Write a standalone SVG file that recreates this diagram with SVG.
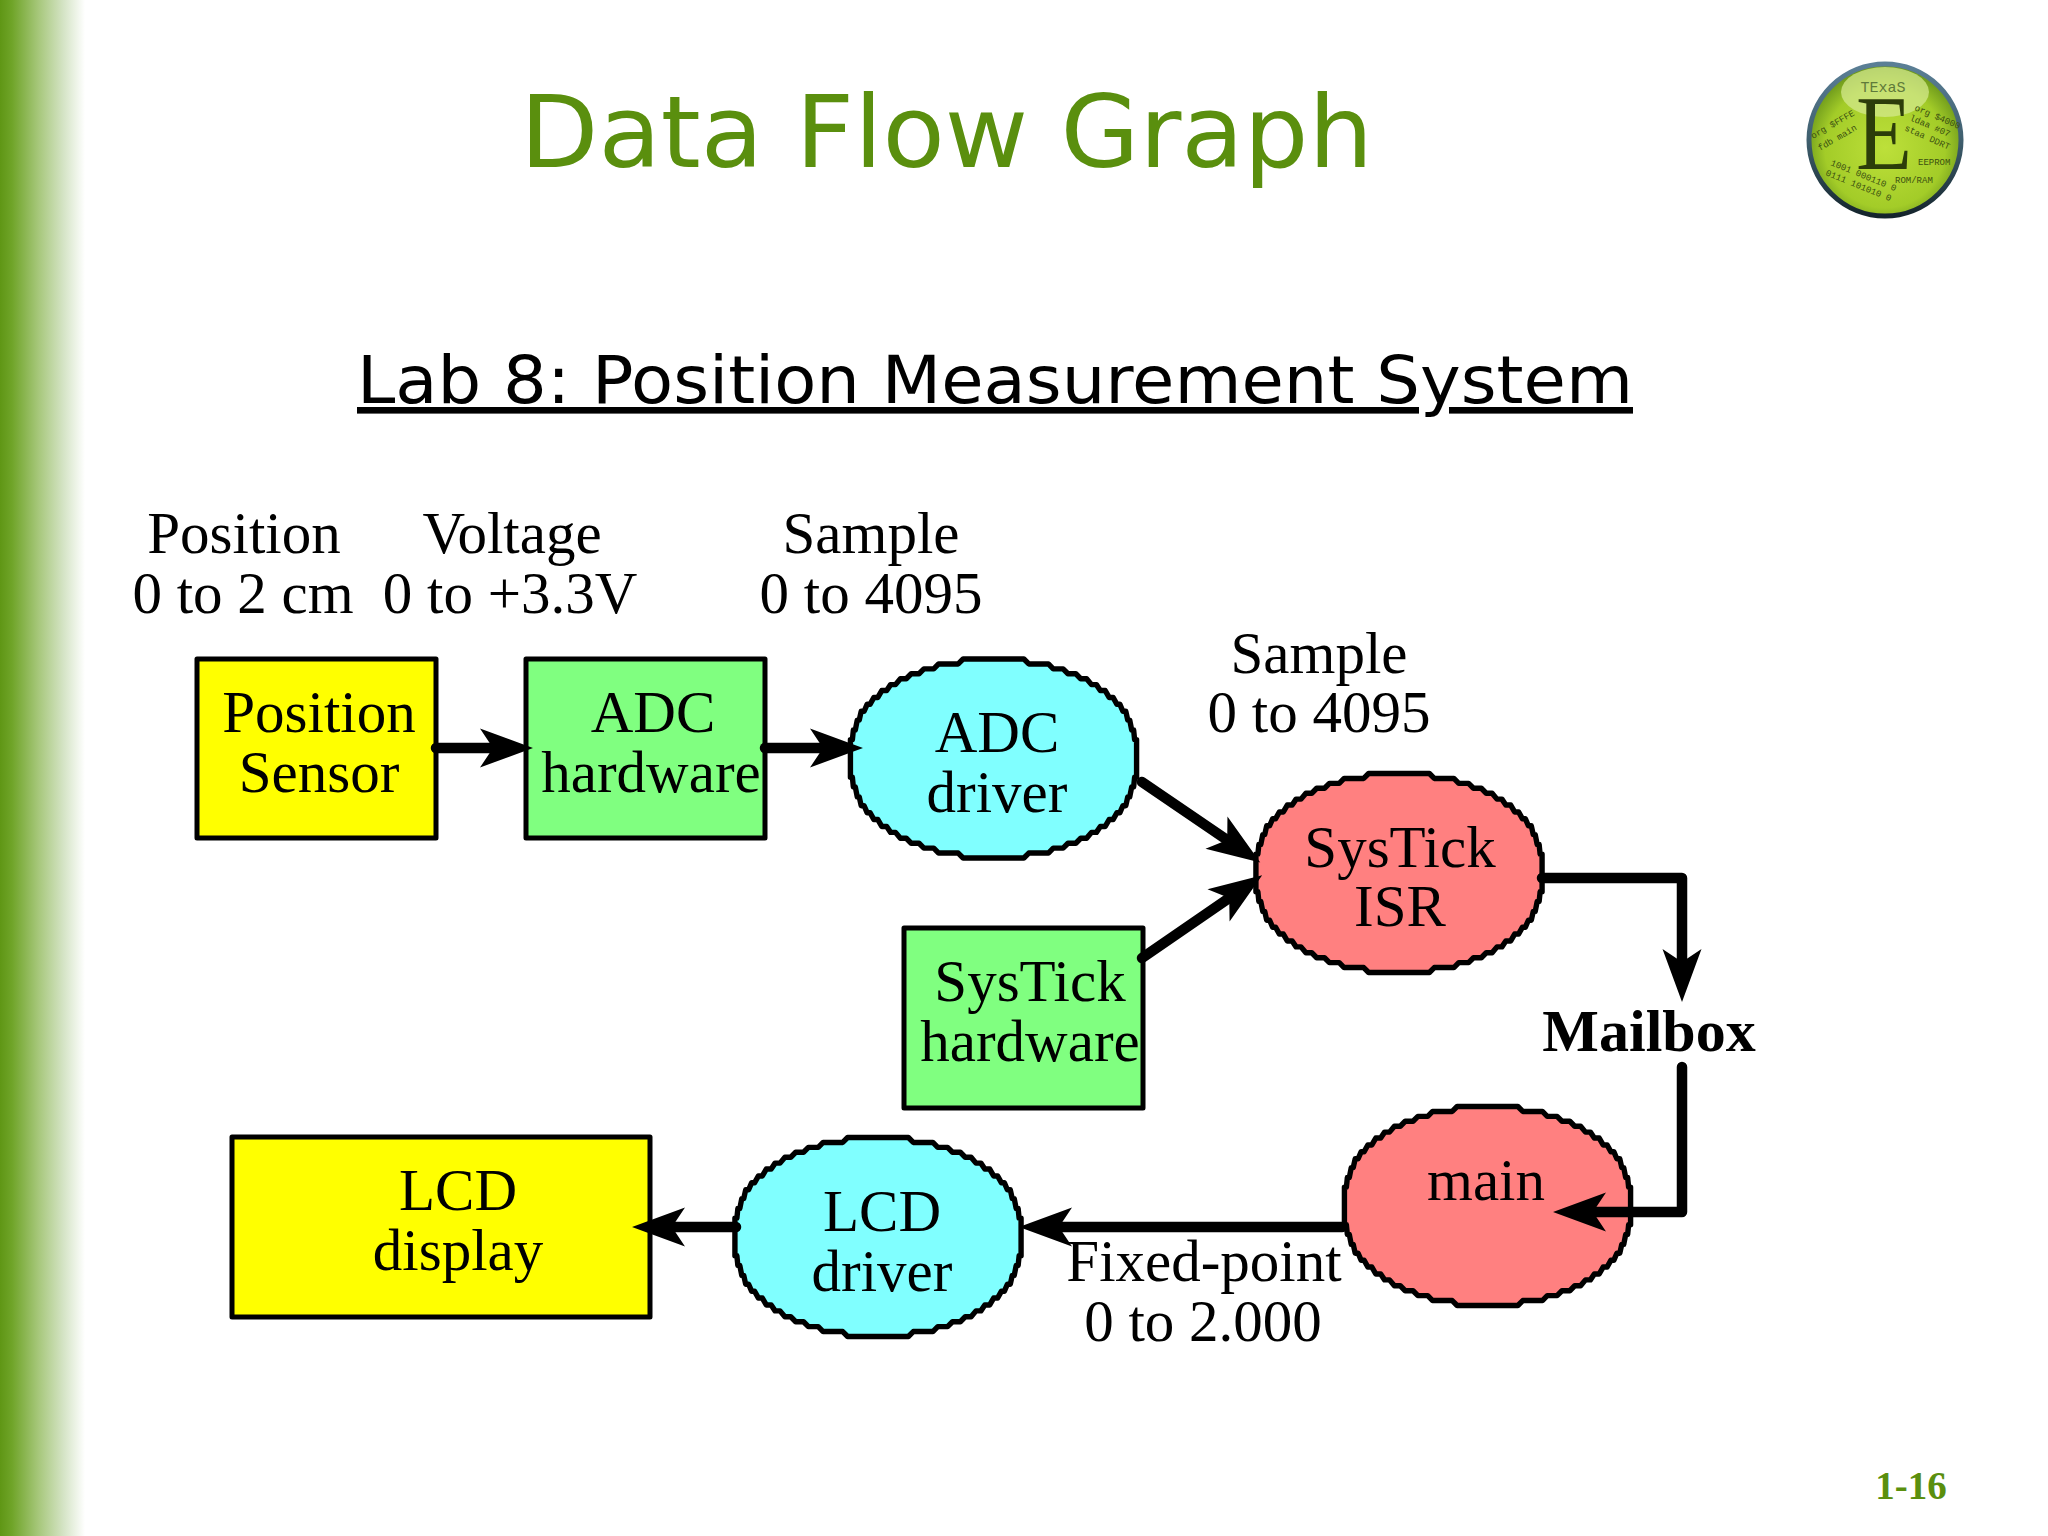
<svg xmlns="http://www.w3.org/2000/svg" width="2048" height="1536" viewBox="0 0 2048 1536">
<style>
text{font-family:"Liberation Serif","Times New Roman",serif;fill:#000}
.t{font-size:59px;text-anchor:middle}
.box{stroke:#000;stroke-width:5;stroke-linejoin:round}
.blob{stroke:#000;stroke-width:5.5;stroke-linejoin:round}
.y{fill:#ffff00}.g{fill:#80ff80}.c{fill:#80ffff}.r{fill:#ff8080}
.arrow{fill:none;stroke:#000;stroke-width:10.5;stroke-linejoin:round;stroke-linecap:round;marker-end:url(#head)}
.m{font-family:"Liberation Mono","Courier New",monospace;font-size:9px;fill:#3a4f10}
</style>
<defs>
<linearGradient id="side" x1="0" x2="1" y1="0" y2="0">
<stop offset="0" stop-color="#5f9615"/><stop offset=".14" stop-color="#6fa428"/><stop offset=".45" stop-color="#a6c77a"/><stop offset=".75" stop-color="#d5e4c6"/><stop offset="1" stop-color="#ffffff"/>
</linearGradient>
<radialGradient id="ball" cx=".5" cy=".55" r=".55">
<stop offset="0" stop-color="#bde03a"/><stop offset=".72" stop-color="#a3cc28"/><stop offset="1" stop-color="#66921a"/>
</radialGradient>
<linearGradient id="ring" x1="0" x2="0" y1="0" y2="1">
<stop offset="0" stop-color="#5b7f96"/><stop offset=".5" stop-color="#3f5f6e"/><stop offset="1" stop-color="#14242c"/>
</linearGradient>
<marker id="head" markerUnits="userSpaceOnUse" markerWidth="60" markerHeight="44" refX="20" refY="22" orient="auto" overflow="visible">
<path d="M0,2.5 L53,22 L0,41.5 L13,22 Z" fill="#000"/>
</marker>
<path id="blob" transform="scale(.98,.985)" d="M31,-101 36,-96 56,-96 61,-91 71,-91 76,-86 84,-86 89,-81 95,-81 100,-75 105,-75 109,-69 114,-69 118,-62 122,-62 126,-55 129,-55 132,-48 135,-48 137,-39 139,-39 141,-29 143,-29 144,-19 146,-19 146,19 144,19 143,29 141,29 139,39 137,39 135,48 132,48 129,55 126,55 122,62 118,62 114,69 109,69 105,75 100,75 95,81 89,81 84,86 76,86 71,91 61,91 56,96 36,96 31,101 -31,101 -36,96 -56,96 -61,91 -71,91 -76,86 -84,86 -89,81 -95,81 -100,75 -105,75 -109,69 -114,69 -118,62 -122,62 -126,55 -129,55 -132,48 -135,48 -137,39 -139,39 -141,29 -143,29 -144,19 -146,19 -146,-19 -144,-19 -143,-29 -141,-29 -139,-39 -137,-39 -135,-48 -132,-48 -129,-55 -126,-55 -122,-62 -118,-62 -114,-69 -109,-69 -105,-75 -100,-75 -95,-81 -89,-81 -84,-86 -76,-86 -71,-91 -61,-91 -56,-96 -36,-96 -31,-101 Z"/>
</defs>
<rect width="2048" height="1536" fill="#fff"/>
<rect width="85" height="1536" fill="url(#side)"/>

<g id="logo">
<circle cx="1885" cy="140" r="76" fill="url(#ball)" stroke="url(#ring)" stroke-width="5"/>
<ellipse cx="1885" cy="92" rx="44" ry="25" fill="#d3e88c" opacity=".75"/>
<text class="m" x="1883" y="92" text-anchor="middle" style="font-size:15px;fill:#5f7a3a">TExaS</text>
<text x="1856" y="169" textLength="56" lengthAdjust="spacingAndGlyphs" style="font-size:106px;fill:#2c3d0a">E</text>
<text class="m" transform="translate(1813,139) rotate(-30)">org $FFFE</text>
<text class="m" transform="translate(1820,151) rotate(-30)">fdb main</text>
<text class="m" transform="translate(1914,110) rotate(23)">org $4000</text>
<text class="m" transform="translate(1909,120) rotate(23)">ldaa #07</text>
<text class="m" transform="translate(1904,130) rotate(24)">staa DDRT</text>
<text class="m" x="1918" y="165">EEPROM</text>
<text class="m" x="1895" y="183">ROM/RAM</text>
<text class="m" transform="translate(1830,165) rotate(22)">1001 000110 0</text>
<text class="m" transform="translate(1825,175) rotate(22)">0111 101010 0</text>
</g>

<text id="title" x="520" y="167" textLength="853" lengthAdjust="spacingAndGlyphs" style="font-family:'DejaVu Sans',Verdana,sans-serif;font-size:99px;fill:#5a8f0e">Data Flow Graph</text>
<text id="subtitle" x="357" y="403" textLength="1276" lengthAdjust="spacingAndGlyphs" style="font-family:'DejaVu Sans',Verdana,sans-serif;font-size:66px;text-decoration:underline">Lab 8: Position Measurement System</text>
<text id="page" x="1911" y="1499" text-anchor="middle" style="font-size:39px;font-weight:bold;fill:#5a8f0e">1-16</text>

<g id="labels">
<text class="t" x="244" y="553">Position</text><text class="t" x="243" y="613">0 to 2 cm</text>
<text class="t" x="512" y="553">Voltage</text><text class="t" x="510" y="613">0 to +3.3V</text>
<text class="t" x="871" y="553">Sample</text><text class="t" x="871" y="613">0 to 4095</text>
<text class="t" x="1319" y="673">Sample</text><text class="t" x="1319" y="732">0 to 4095</text>
<text class="t" x="1204" y="1281">Fixed-point</text><text class="t" x="1203" y="1341">0 to 2.000</text>
<text class="t" x="1649" y="1051" style="font-weight:bold;font-size:60px">Mailbox</text>
</g>

<g id="position-sensor"><rect class="box y" x="197" y="659" width="239" height="179"/><text class="t" x="319" y="732">Position</text><text class="t" x="319" y="792">Sensor</text></g>
<g id="adc-hardware"><rect class="box g" x="526" y="659" width="239" height="179"/><text class="t" x="653" y="732">ADC</text><text class="t" x="651" y="792">hardware</text></g>
<g id="adc-driver"><use href="#blob" class="blob c" x="993.5" y="758.5"/><text class="t" x="997" y="752">ADC</text><text class="t" x="997" y="812">driver</text></g>
<g id="systick-isr"><use href="#blob" class="blob r" x="1399" y="873"/><text class="t" x="1400" y="867">SysTick</text><text class="t" x="1400" y="926">ISR</text></g>
<g id="systick-hardware"><rect class="box g" x="904" y="928" width="239" height="180"/><text class="t" x="1030" y="1001">SysTick</text><text class="t" x="1030" y="1061">hardware</text></g>
<g id="main"><use href="#blob" class="blob r" x="1487.5" y="1206"/><text class="t" x="1486" y="1200">main</text></g>
<g id="lcd-driver"><use href="#blob" class="blob c" x="878" y="1237"/><text class="t" x="882" y="1231">LCD</text><text class="t" x="882" y="1291">driver</text></g>
<g id="lcd-display"><rect class="box y" x="232" y="1137" width="418" height="180"/><text class="t" x="458" y="1210">LCD</text><text class="t" x="458" y="1270">display</text></g>

<g id="connectors">
<path class="arrow" d="M436,748H500"/>
<path class="arrow" d="M765,748H830"/>
<path class="arrow" d="M1142,782L1233,844"/>
<path class="arrow" d="M1142,958L1235,894"/>
<path class="arrow" d="M1542,878H1682V969"/>
<path class="arrow" d="M1682,1067V1212H1586"/>
<path class="arrow" d="M1342,1227H1052"/>
<path class="arrow" d="M736,1227H665"/>
</g>
</svg>
